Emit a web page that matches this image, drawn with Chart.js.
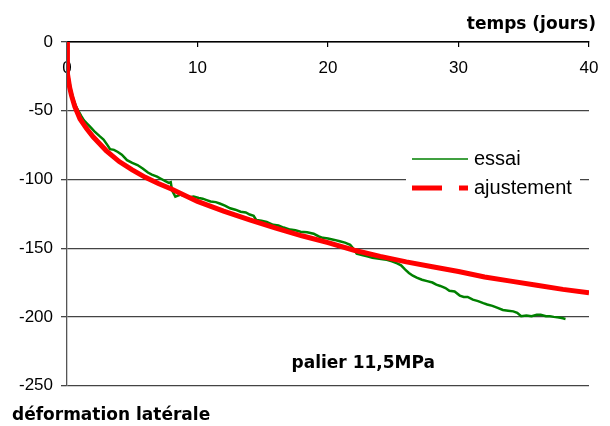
<!DOCTYPE html>
<html>
<head>
<meta charset="utf-8">
<script src="https://cdn.jsdelivr.net/npm/chart.js@4.4.1/dist/chart.umd.min.js"></script>
<style>
    html, body { margin: 0; padding: 0; background: #fff; }
</style>
</head>
<body>
<canvas id="graph" width="610" height="426"></canvas>
<script>
        // essai : mesure (jours, deformation)
        let essai_t = [0, 0.05, 0.15, 0.3, 0.5, 0.7, 0.87, 1.1, 1.3, 1.5, 1.8, 2.1, 2.5, 2.8, 3.1, 3.3, 3.6, 3.9, 4.2, 4.6,
            5.0, 5.4, 5.8, 6.2, 6.5, 6.9, 7.2, 7.5, 7.8, 7.95, 8.05, 8.3, 8.7, 9.0, 9.4, 9.7, 10.1, 10.4, 10.7, 11.0,
            11.4, 11.7, 12.1, 12.5, 12.9, 13.3, 13.7, 14.0, 14.3, 14.5, 14.9, 15.3, 15.8, 16.2, 16.6, 17.1, 17.5, 17.9, 18.4, 18.9,
            19.3, 19.6, 20.0, 20.5, 20.9, 21.3, 21.7, 22.0, 22.2, 22.6, 23.0, 23.4, 23.8, 24.2, 24.5, 24.9, 25.3, 25.6, 25.9, 26.2,
            26.5, 26.8, 27.2, 27.6, 28.0, 28.3, 28.6, 29.0, 29.3, 29.7, 30.1, 30.4, 30.7, 31.1, 31.5, 31.9, 32.2, 32.6, 33.0, 33.4,
            33.8, 34.2, 34.5, 34.8, 35.2, 35.6, 36.0, 36.3, 36.7, 37.0, 37.3, 37.7, 38.0, 38.2];
        let essai_v = [0, -18, -27, -35, -42, -47, -50, -54, -57, -59, -62, -65, -68.5, -71, -75, -78, -78.5, -80, -82, -86,
            -88, -89.5, -92, -95, -96.5, -98, -99.5, -101, -102.5, -102, -108, -112.5, -111, -112, -113, -112.5, -113.5, -114, -115, -116,
            -116.5, -117.5, -119, -121, -122, -123.5, -124, -125.5, -126.5, -129.5, -130, -131, -133, -133.5, -135, -136.5, -137, -138, -138.5, -139.5,
            -141.5, -142.5, -143, -144, -145, -146, -147.5, -151, -154, -155, -156, -157, -157.5, -158, -158.5, -159.5, -161, -162.5, -165.5, -168,
            -170, -171.5, -173, -174, -175, -176.5, -177.5, -179, -181, -181.5, -184.5, -185.5, -185.5, -187.5, -188.5, -190, -191, -192, -193.5, -195,
            -195.5, -196, -197, -199.5, -199, -199.5, -198.5, -198.5, -199.5, -199.5, -200, -200.5, -201, -201.5];

        // ajustement
        let fit_t = [0, 0.01, 0.03, 0.06, 0.1, 0.2, 0.35, 0.6, 1, 1.5, 2, 3, 4, 5, 6, 7, 8, 10, 12, 14, 16, 18,
            20, 22, 24, 26, 28, 30, 32, 34, 36, 38, 40];
        let fit_v = [0, -12, -18, -23, -27, -33, -39, -47, -56, -63, -69, -79, -87, -93, -98.5, -103, -107, -116, -123, -129.5, -135.5, -141,
            -146, -151.5, -156, -160, -163.5, -167, -171, -174, -177, -180, -182.5];

        let x_ticks = [0, 10, 20, 30, 40];
        let y_ticks = [0, -50, -100, -150, -200, -250];
        let palier_label = 'palier 11,5MPa';
        let palier_pos = [22.7, -234];

        let essai_points = essai_t.map((t, i) => ({ x: t, y: essai_v[i] }));
        let fit_points = fit_t.map((t, i) => ({ x: t, y: fit_v[i] }));

        let extra_text = {
            id: 'extra_text',
            afterDraw(chart) {
                let c = chart.ctx;
                let a = chart.chartArea;
                let xs = chart.scales.x, ys = chart.scales.y;
                c.save();
                c.fillStyle = '#000';
                c.font = 'bold 17px "DejaVu Sans"';
                c.textAlign = 'center';
                c.textBaseline = 'middle';
                c.fillText(palier_label, xs.getPixelForValue(palier_pos[0]), ys.getPixelForValue(palier_pos[1]));

                // legende dans le graphe
                c.fillStyle = '#fff';
                c.fillRect(a.right - 183, a.top + 98, 174, 65);
                c.strokeStyle = '#008000';
                c.lineWidth = 1.5;
                c.beginPath();
                c.moveTo(a.right - 177, a.top + 117);
                c.lineTo(a.right - 121, a.top + 117);
                c.stroke();
                c.strokeStyle = '#ff0000';
                c.lineWidth = 5;
                c.setLineDash([30, 17]);
                c.beginPath();
                c.moveTo(a.right - 177, a.top + 146);
                c.lineTo(a.right - 121, a.top + 146);
                c.stroke();
                c.setLineDash([]);
                c.fillStyle = '#000';
                c.font = '20px "Liberation Sans"';
                c.textAlign = 'left';
                c.fillText('essai', a.right - 115, a.top + 117);
                c.fillText('ajustement', a.right - 115, a.top + 146.5);
                c.restore();
            }
        };

        let graph = document.getElementById('graph');
        let graph_chart = new Chart(graph, {
            type: 'scatter',
            data: {
                datasets: [{
                    label: 'ajustement',
                    data: fit_points,
                    showLine: true,
                    borderColor: '#ff0000',
                    borderWidth: 5,
                    pointRadius: 0,
                    order: 0
                }, {
                    label: 'essai',
                    data: essai_points,
                    showLine: true,
                    borderColor: '#008000',
                    borderWidth: 2.5,
                    pointRadius: 0,
                    order: 1
                }]
            },
            options: {
                responsive: false,
                animation: false,
                layout: { padding: { left: 12, right: 14, top: 0, bottom: 0 } },
                plugins: {
                    legend: { display: false },
                    tooltip: { enabled: false },
                    title: {
                        display: true,
                        text: 'temps (jours)',
                        align: 'end',
                        color: '#000',
                        font: { family: 'DejaVu Sans', size: 17, weight: 'bold' },
                        padding: { top: 14, bottom: 7.6 }
                    },
                    subtitle: {
                        display: true,
                        position: 'bottom',
                        text: 'déformation latérale',
                        align: 'start',
                        color: '#000',
                        font: { family: 'DejaVu Sans', size: 17, weight: 'bold' },
                        padding: { top: 20, bottom: 0 }
                    }
                },
                scales: {
                    x: {
                        type: 'linear',
                        position: 'top',
                        min: 0,
                        max: 40,
                        afterBuildTicks: (s) => { s.ticks = x_ticks.map(v => ({ value: v })); },
                        afterFit: (s) => { s.height = 0; s.paddingRight = 21; },
                        ticks: {
                            mirror: true,
                            padding: 16,
                            color: '#000',
                            font: { family: 'Liberation Sans', size: 17 }
                        },
                        grid: { drawOnChartArea: false, tickLength: -5, color: '#000', lineWidth: 1.2 },
                        border: { color: '#000', width: 1.5 }
                    },
                    y: {
                        min: -250,
                        max: 0,
                        afterBuildTicks: (s) => { s.ticks = y_ticks.map(v => ({ value: v })); },
                        afterFit: (s) => { s.width = 55; },
                        ticks: {
                            padding: 8,
                            color: '#000',
                            font: { family: 'Liberation Sans', size: 17 }
                        },
                        grid: { color: '#444', lineWidth: 1.3, tickLength: 6 },
                        border: { color: '#555', width: 1.3 }
                    }
                }
            },
            plugins: [extra_text]
        });
</script>
</body>
</html>
